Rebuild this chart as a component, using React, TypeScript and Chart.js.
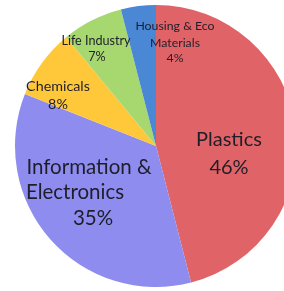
import React, { useEffect, useRef } from "react";
import { Chart, registerables } from "chart.js";

Chart.register(...registerables);

const categories = ["Plastics", "Information & Electronics", "Chemicals", "Life Industry", "Housing & Eco Materials"];
const shares = [46, 35, 8, 7, 4];
const sliceColors = ["#E06467", "#8E8CEF", "#FFC83A", "#A7D870", "#4A87D5"];

// label text lines per slice (text shown in the picture)
const labelLines: string[][] = [
  ["Plastics", "46%"],
  ["Information &", "Electronics", "35%"],
  ["Chemicals", "8%"],
  ["Life Industry", "7%"],
  ["Housing & Eco", "Materials", "4%"],
];

// placement of each line relative to pie centre (px) and font size
const labelLayout = [
  { size: 20, pos: [[73, -6], [73, 22]] },
  { size: 20.5, pos: [[-67, 21], [-81, 46], [-63, 72]] },
  { size: 14.3, pos: [[-98, -60], [-98, -42]] },
  { size: 12.6, pos: [[-60, -105], [-59, -89]] },
  { size: 12.3, pos: [[19, -120], [19, -103], [19, -88]] },
];

const labelPlugin = {
  id: "sliceLabels",
  afterDatasetsDraw(chart: any) {
    const meta = chart.getDatasetMeta(0);
    const ctx = chart.ctx;
    ctx.save();
    ctx.fillStyle = "#1e1e2a";
    ctx.textAlign = "center";
    ctx.textBaseline = "middle";
    meta.data.forEach((arc: any, i: number) => {
      const lay = labelLayout[i];
      ctx.font = `${lay.size}px Lato, "Open Sans", sans-serif`;
      labelLines[i].forEach((t, j) => {
        const [dx, dy] = lay.pos[j];
        ctx.fillText(t, arc.x + dx, arc.y + dy);
      });
    });
    ctx.restore();
  },
};

export default function App() {
  const ref = useRef<HTMLCanvasElement>(null);
  useEffect(() => {
    if (!ref.current) return;
    const chart = new Chart(ref.current, {
      type: "pie",
      data: {
        labels: categories,
        datasets: [
          {
            data: shares,
            backgroundColor: sliceColors,
            borderWidth: 0,
          },
        ],
      },
      options: {
        responsive: false,
        animation: false,
        layout: { padding: { top: 5, bottom: 4, left: 15, right: 15 } },
        plugins: { legend: { display: false }, tooltip: { enabled: false } },
      },
      plugins: [labelPlugin],
    });
    return () => chart.destroy();
  }, []);
  return (
    <div style={{ position: "fixed", left: 0, top: 0, width: 284, height: 291, overflow: "hidden", background: "#fff" }}>
      <canvas ref={ref} width={312} height={291} style={{ width: 312, height: 291, display: "block" }} />
    </div>
  );
}
